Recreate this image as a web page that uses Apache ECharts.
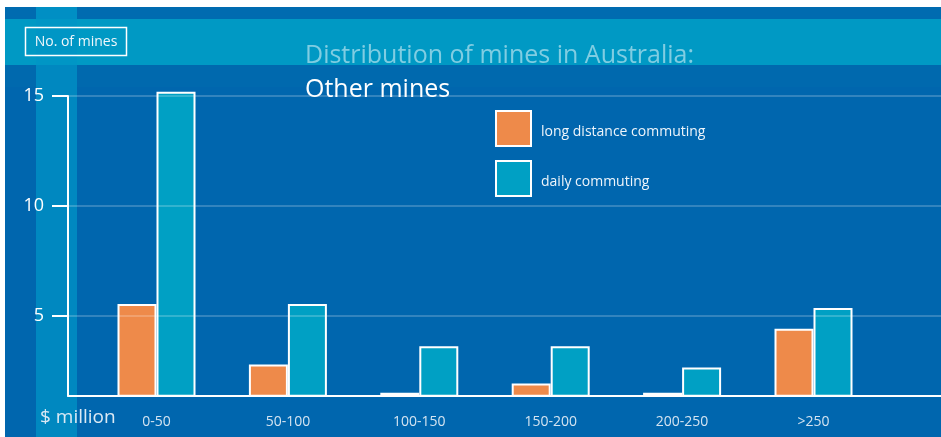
<!DOCTYPE html>
<html>
<head>
<meta charset="utf-8">
<script src="https://cdn.jsdelivr.net/npm/echarts@6/dist/echarts.min.js"></script>
<style>
  html, body { margin: 0; padding: 0; background: #fff; }
  #chart { width: 941px; height: 437px; }
</style>
</head>
<body>
<div id="chart"></div>
<script>
// ---- data ----
const categories = ['0-50', '50-100', '100-150', '150-200', '200-250', '>250'];
const longDistance = [5.52, 2.76, 1.48, 1.90, 1.48, 4.39];
const dailyCommuting = [15.19, 5.52, 3.59, 3.59, 2.62, 5.34];
const seriesNames = ['long distance commuting', 'daily commuting'];
const yTicks = [5, 10, 15];
const axisBase = 1.34;
const axisTop = 15;
const barAxisTop = 15.5;
const titleLine1 = 'Distribution of mines in Australia:';
const titleLine2 = 'Other mines';
const yAxisName = 'No. of mines';
const xAxisName = '$ million';

const FONT = "'Open Sans', 'Noto Sans', sans-serif";
const chart = echarts.init(document.getElementById('chart'), null, { renderer: 'canvas' });

// plot geometry (pixels)
const plotBottom = 41.3;
const plotTop = 96;
const pxPerUnit = (437 - plotBottom - plotTop) / (axisTop - axisBase);
const barGridTop = plotTop - (barAxisTop - axisTop) * pxPerUnit;

const bg = (x, y, w, h, fill, z) => ({
  type: 'rect', silent: true, z: z,
  shape: { x: x, y: y, width: w, height: h },
  style: { fill: fill }
});

const option = {
  backgroundColor: '#ffffff',
  animation: false,
  graphic: [
    bg(5, 7, 936, 12, '#006bb0', -100),
    bg(5, 19, 936, 46, '#0099c4', -100),
    bg(5, 65, 936, 372, '#0066ae', -100),
    bg(5, 65, 936, 22, '#0069ae', -99),
    bg(36, 7, 41, 12, '#008fc4', -98),
    bg(36, 19, 41, 46, '#0096c5', -98),
    bg(36, 65, 41, 372, '#0088c0', -98),
    {
      type: 'rect', silent: true, z: 10,
      shape: { x: 25.5, y: 27.5, width: 101, height: 28 },
      style: { fill: 'none', stroke: '#ffffff', lineWidth: 1.5 }
    },
    {
      type: 'text', silent: true, z: 10, x: 76, y: 42,
      style: { text: yAxisName, font: '14px ' + FONT, fill: '#f0f7fb', textAlign: 'center', textVerticalAlign: 'middle' }
    },
    {
      type: 'text', silent: true, z: 10, x: 305, y: 56,
      style: { text: titleLine1, font: '25px ' + FONT, fill: '#80cde2', textAlign: 'left', textVerticalAlign: 'middle' }
    },
    {
      type: 'text', silent: true, z: 10, x: 305, y: 89.5,
      style: { text: titleLine2, font: '25px ' + FONT, fill: '#ffffff', textAlign: 'left', textVerticalAlign: 'middle' }
    },
    {
      type: 'text', silent: true, z: 10, x: 40, y: 418,
      style: { text: xAxisName, font: '19px ' + FONT, fill: '#dbe9f4', textAlign: 'left', textVerticalAlign: 'middle' }
    }
  ],
  legend: {
    orient: 'vertical',
    left: 490, top: 105,
    itemWidth: 35, itemHeight: 35, itemGap: 13,
    icon: 'rect',
    selectedMode: false,
    data: seriesNames,
    itemStyle: { borderColor: '#ffffff', borderWidth: 2 },
    formatter: name => '{t|' + name + '}',
    textStyle: {
      color: '#eef5fb', fontSize: 14, fontFamily: FONT,
      rich: { t: { color: '#eef5fb', fontSize: 14, fontFamily: FONT, padding: [7, 0, 0, 5] } }
    }
  },
  grid: [
    { left: 68, right: 0, top: plotTop, bottom: plotBottom, outerBoundsMode: 'none', containLabel: false },
    { left: 90.8, right: 61.8, top: barGridTop, bottom: plotBottom, outerBoundsMode: 'none', containLabel: false }
  ],
  xAxis: [
    {
      gridIndex: 0, type: 'category', data: categories,
      axisLine: { show: true, onZero: false, lineStyle: { color: '#ffffff', width: 2 } },
      axisTick: { show: false }, axisLabel: { show: false }, splitLine: { show: false }
    },
    {
      gridIndex: 1, type: 'category', data: categories,
      axisLine: { show: false, onZero: false }, axisTick: { show: false }, splitLine: { show: false },
      axisLabel: { color: '#d4e4f1', fontSize: 14, fontFamily: FONT, margin: 19 }
    }
  ],
  yAxis: [
    {
      gridIndex: 0, type: 'value', min: axisBase, max: axisTop,
      axisLine: { show: true, lineStyle: { color: '#ffffff', width: 2 } },
      axisTick: { show: true, customValues: yTicks, length: 16, lineStyle: { color: '#ffffff', width: 2 } },
      axisLabel: { show: true, customValues: yTicks, color: '#ffffff', fontSize: 18, fontFamily: FONT, margin: 24, padding: [4, 0, 0, 0] },
      splitLine: { show: false }
    },
    {
      gridIndex: 1, type: 'value', min: axisBase, max: barAxisTop, show: false,
      splitLine: { show: false }
    }
  ],
  series: [
    {
      type: 'line', xAxisIndex: 0, yAxisIndex: 0, data: categories.map(() => null),
      silent: true, z: 1, symbol: 'none',
      markLine: {
        silent: true, symbol: 'none', label: { show: false },
        lineStyle: { color: 'rgba(255,255,255,0.2)', width: 2, type: 'solid' },
        emphasis: { disabled: true },
        data: yTicks.map(v => ({ yAxis: v }))
      }
    },
    {
      name: seriesNames[0], type: 'bar', xAxisIndex: 1, yAxisIndex: 1,
      data: longDistance, barWidth: 39, barGap: '0%', clip: true, z: 3,
      itemStyle: { color: '#ee8a4a', borderColor: '#ffffff', borderWidth: 2 }
    },
    {
      name: seriesNames[1], type: 'bar', xAxisIndex: 1, yAxisIndex: 1,
      data: dailyCommuting, barWidth: 39, barGap: '0%', clip: true, z: 3,
      itemStyle: { color: '#00a0c4', borderColor: '#ffffff', borderWidth: 2 }
    }
  ]
};
chart.setOption(option);
</script>
</body>
</html>
